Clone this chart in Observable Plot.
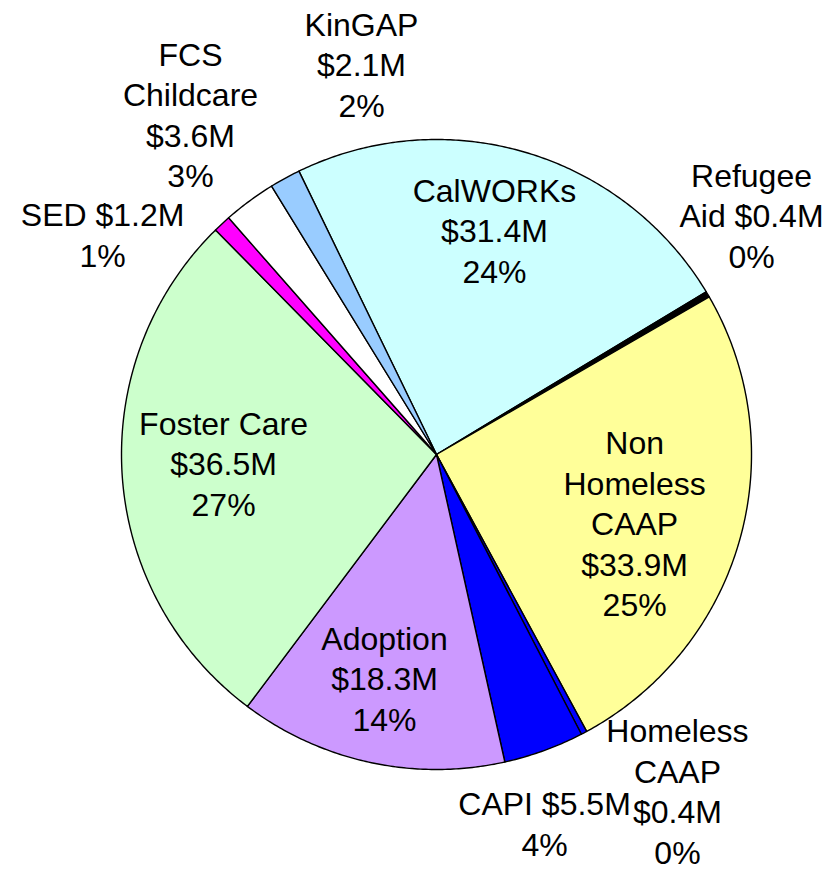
<!DOCTYPE html>
<html>
<head>
<meta charset="utf-8">
<script src="https://cdn.jsdelivr.net/npm/d3@7"></script>
<script src="https://cdn.jsdelivr.net/npm/@observablehq/plot@0.6"></script>
<style>
  html, body { margin: 0; padding: 0; background: #ffffff; }
  #chart svg { display: block; }
</style>
</head>
<body>
<div id="chart"></div>
<script>
// ---- data ----
const categories = ["CalWORKs", "Refugee Aid", "Non Homeless CAAP", "Homeless CAAP", "CAPI",
                    "Adoption", "Foster Care", "SED", "FCS Childcare", "KinGAP"];
const values = [31.4, 0.4, 33.9, 0.4, 5.5, 18.3, 36.5, 1.2, 3.6, 2.1]; // $M
const labelNames = ["CalWORKs", "Refugee\nAid", "Non\nHomeless\nCAAP", "Homeless\nCAAP", "CAPI",
                    "Adoption", "Foster Care", "SED", "FCS\nChildcare", "KinGAP"];

// ---- styles / layout (not data) ----
const colors = ["#CCFFFF", "#000000", "#FFFF99", "#0000FF", "#0000FF",
                "#CC99FF", "#CCFFCC", "#FF00FF", "#FFFFFF", "#99CCFF"];
const joins = ["\n", " ", "\n", "\n", " ", "\n", "\n", " ", "\n", "\n"];
// label block centres in radius units relative to pie centre (x right, y down)
const labelDX = [0.184, 1.000, 0.629, 0.765, 0.343, -0.165, -0.676, -1.060, -0.781, -0.238];
const labelDY = [-0.715, -0.762, 0.215, 1.065, 1.168, 0.707, 0.025, -0.702, -1.083, -1.242];
const W = 839, H = 871, CX = 436, CY = 454, R = 315;
const startDeg = -25.9; // clockwise from 12 o'clock

const total = d3.sum(values);
let acc = startDeg;
const slices = categories.map((name, i) => {
  const a0 = acc, a1 = acc + values[i] / total * 360;
  acc = a1;
  return {name, i, a0, a1};
});

// polygon points for each slice (unit radius, y pointing down)
const pts = [];
for (const s of slices) {
  const n = Math.max(2, Math.ceil((s.a1 - s.a0) / 0.5));
  pts.push({name: s.name, color: colors[s.i], x: 0, y: 0});
  for (let k = 0; k <= n; k++) {
    const a = (s.a0 + (s.a1 - s.a0) * k / n) * Math.PI / 180;
    pts.push({name: s.name, color: colors[s.i], x: Math.sin(a), y: -Math.cos(a)});
  }
  pts.push({name: s.name, color: colors[s.i], x: 0, y: 0});
}

const fmtPct = d3.format(".0f");
const labels = categories.map((name, i) => ({
  name,
  x: labelDX[i],
  y: labelDY[i],
  text: `${labelNames[i]}${joins[i]}$${values[i].toFixed(1)}M\n${fmtPct(values[i] / total * 100)}%`
}));

const chart = Plot.plot({
  width: W,
  height: H,
  margin: 0,
  x: {domain: [-CX / R, (W - CX) / R], range: [0, W], axis: null},
  y: {domain: [-CY / R, (H - CY) / R], range: [0, H], axis: null},
  color: {type: "identity"},
  style: {
    background: "#ffffff",
    fontFamily: "'Liberation Sans', Arial, Helvetica, sans-serif",
    overflow: "visible"
  },
  marks: [
    Plot.line(pts, {
      x: "x", y: "y", z: "name",
      fill: "color",
      stroke: "#000000",
      strokeWidth: 1.4,
      strokeLinejoin: "round"
    }),
    Plot.text(labels, {
      x: "x", y: "y", text: "text",
      fontSize: 32,
      lineHeight: 1.266,
      lineAnchor: "middle",
      textAnchor: "middle",
      fill: "#000000"
    })
  ]
});
document.getElementById("chart").appendChild(chart);
</script>
</body>
</html>
